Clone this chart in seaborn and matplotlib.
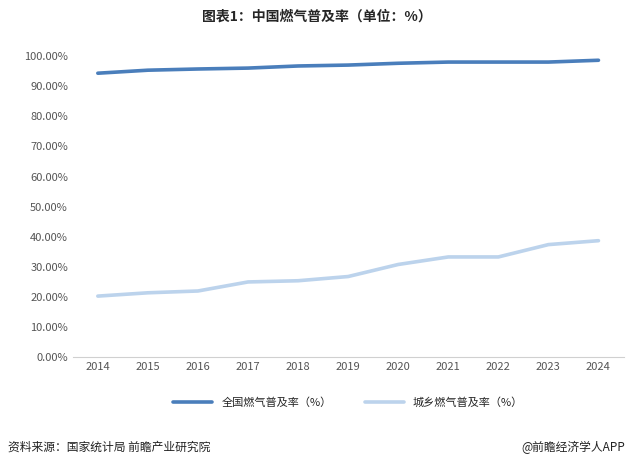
import matplotlib.pyplot as plt
import seaborn as sns
import pandas as pd
import numpy as np

years = [2014, 2015, 2016, 2017, 2018, 2019, 2020, 2021, 2022, 2023, 2024]
national = [94.3, 95.3, 95.7, 96.0, 96.7, 97.0, 97.6, 98.0, 98.0, 98.0, 98.6]
urban_rural = [20.3, 21.4, 22.0, 25.0, 25.4, 26.8, 30.8, 33.3, 33.3, 37.4, 38.7]
names = ['全国燃气普及率（%）', '城乡燃气普及率（%）']

sns.set_style('white')
plt.rcParams['font.family'] = ['Noto Sans CJK SC', 'DejaVu Sans']

df = pd.DataFrame({'year': years * 2,
                   'value': national + urban_rural,
                   'series': [names[0]] * len(years) + [names[1]] * len(years)})

fig = plt.figure(figsize=(6.33, 4.67), dpi=100)
ax = fig.add_axes([0.115, 0.235, 0.87, 0.645])
sns.lineplot(data=df, x='year', y='value', hue='series',
             palette=['#4a7ebb', '#bcd3ec'], linewidth=2.6, ax=ax)

ax.set_ylim(0, 100)
ax.set_yticks(np.arange(0, 101, 10))
ax.set_yticklabels([f'{v:.2f}%' for v in range(0, 101, 10)], fontsize=8, color='#555555')
ax.set_xlim(2013.5, 2024.5)
ax.set_xticks(years)
ax.set_xticklabels([str(y) for y in years], fontsize=8, color='#555555')
ax.set_xlabel('')
ax.set_ylabel('')
for s in ['top', 'right', 'left']:
    ax.spines[s].set_visible(False)
ax.spines['bottom'].set_color('#d0d0d0')
ax.tick_params(length=0)

ax.legend(loc='upper center', bbox_to_anchor=(0.5, -0.1), ncol=2, frameon=False,
          fontsize=8, handlelength=3.5, columnspacing=3)

fig.text(0.5, 0.955, '图表1：中国燃气普及率（单位：%）', ha='center', fontsize=10, fontweight='bold')
fig.text(0.012, 0.035, '资料来源：国家统计局 前瞻产业研究院', fontsize=8.5, color='#222222')
fig.text(0.988, 0.035, '@前瞻经济学人APP', fontsize=8.5, color='#222222', ha='right')

plt.savefig('out.png', dpi=100)
